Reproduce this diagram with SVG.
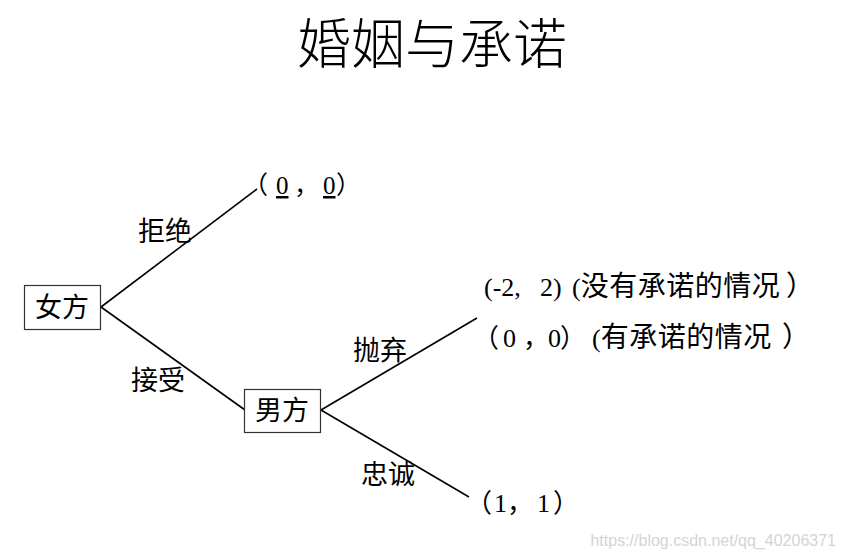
<svg xmlns="http://www.w3.org/2000/svg" width="845" height="559" viewBox="0 0 845 559">
<style>
.t{font-family:"Liberation Serif","Noto Sans CJK SC",serif;fill:#000}
.box{fill:#fff;stroke:#333;stroke-width:1.2}
.ln{stroke:#000;stroke-width:1.6;fill:none}
.cj{font-size:28px;letter-spacing:0.5px}
</style>
<rect width="845" height="559" fill="#fff"/>
<text id="title" class="t" x="432" y="64" font-size="54" text-anchor="middle" style="font-weight:300">婚姻与承诺</text>
<g id="connectors">
<line class="ln" x1="101" y1="307" x2="257" y2="189"/>
<line class="ln" x1="101" y1="307" x2="245" y2="410"/>
<line class="ln" x1="321" y1="410" x2="477" y2="318"/>
<line class="ln" x1="321" y1="410" x2="469" y2="497"/>
<text class="t" x="165" y="241" font-size="27" text-anchor="middle">拒绝</text>
<text class="t" x="158" y="390" font-size="27" text-anchor="middle">接受</text>
<text class="t" x="380" y="360" font-size="27" text-anchor="middle">抛弃</text>
<text class="t" x="388" y="484" font-size="27" text-anchor="middle">忠诚</text>
</g>
<g id="n-nv">
<rect class="box" x="24.5" y="285.5" width="76" height="44"/>
<text class="t" x="62" y="317" font-size="27" text-anchor="middle">女方</text>
</g>
<g id="n-nan">
<rect class="box" x="244.5" y="389.5" width="76" height="43"/>
<text class="t" x="282" y="420" font-size="27" text-anchor="middle">男方</text>
</g>
<g id="n-r1">
<text class="t" y="194" font-size="25"><tspan x="243">（</tspan><tspan x="276" text-decoration="underline">0</tspan><tspan x="294">，</tspan><tspan x="323" text-decoration="underline">0</tspan><tspan x="336">）</tspan></text>
</g>
<g id="n-r2">
<text class="t" y="296" font-size="26"><tspan x="484">(-2, </tspan><tspan x="540">2) </tspan><tspan x="572">(</tspan><tspan class="cj">没有承诺的情况</tspan><tspan x="786" class="cj">）</tspan></text>
<text class="t" y="347" font-size="26"><tspan x="473">（</tspan><tspan x="503">0</tspan><tspan x="523">，</tspan><tspan x="548">0</tspan><tspan x="560">）</tspan><tspan x="592">(</tspan><tspan class="cj">有承诺的情况</tspan><tspan x="782" class="cj">）</tspan></text>
</g>
<g id="n-r3">
<text class="t" y="512" font-size="26"><tspan x="466">（</tspan><tspan x="494">1</tspan><tspan x="507">，</tspan><tspan x="537">1</tspan><tspan x="553">）</tspan></text>
</g>
<text class="t" x="836" y="546" font-size="16" text-anchor="end" style="font-family:'Liberation Sans',sans-serif;fill:#d4d4d4">https://blog.csdn.net/qq_40206371</text>
</svg>
